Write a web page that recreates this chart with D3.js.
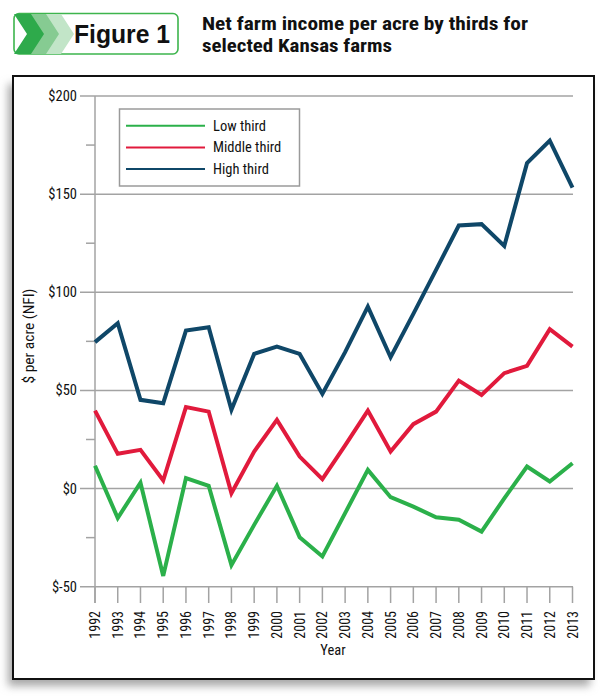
<!DOCTYPE html>
<html><head><meta charset="utf-8">
<script src="https://cdn.jsdelivr.net/npm/d3@7"></script>
<style>
body{margin:0;background:#fff;}
svg text{font-family:"Liberation Sans Narrow","Arial Narrow","Roboto Condensed","Liberation Sans",Arial,sans-serif;}
</style></head>
<body><svg id="c" width="610" height="696"></svg>
<script>
const years = d3.range(1992, 2014);
const yTicks = [-50, 0, 50, 100, 150, 200];
const yTickLabels = ["$-50", "$0", "$50", "$100", "$150", "$200"];
const seriesNames = ["Low third", "Middle third", "High third"];
const seriesColors = ["#2bb04a", "#e11a3c", "#0f4768"];
const lowThird    = [11.6, -15, 3, -44.5, 5.3, 1.4, -39, -18.5, 1.4, -24.8, -34.6, -12.5, 9.5, -4.4, -9.2, -14.6, -15.9, -21.9, -5, 11.2, 3.6, 12.9];
const middleThird = [39.7, 17.7, 19.7, 4.1, 41.5, 39.2, -2.4, 18.9, 35, 16.3, 4.8, 22, 39.7, 18.9, 32.8, 39.2, 55, 47.7, 58.8, 62.5, 81.2, 72.3];
const highThird   = [74.6, 84.2, 45.2, 43.5, 80.5, 82.2, 40.1, 68.6, 72.3, 68.6, 48.2, 69.5, 92.7, 66.9, 89, 111.4, 134, 134.7, 123.6, 165.8, 177.3, 153.3];
const seriesValues = [lowThird, middleThird, highThird];

const svg = d3.select("#c");
const defs = svg.append("defs");
const f = defs.append("filter").attr("id","sh").attr("x","-10%").attr("y","-10%").attr("width","120%").attr("height","120%");
f.append("feGaussianBlur").attr("stdDeviation", 4);

// shadow + frame
svg.append("rect").attr("x", 8).attr("y", 84).attr("width", 582).attr("height", 602)
  .attr("fill", "#a8a8a8").attr("filter", "url(#sh)");
svg.append("rect").attr("x", 13).attr("y", 76).attr("width", 581).attr("height", 603)
  .attr("fill", "#fff").attr("stroke", "#111").attr("stroke-width", 2);

// badge
const badge = svg.append("g");
badge.append("rect").attr("x", 14).attr("y", 13.5).attr("width", 164).attr("height", 40.5).attr("rx", 5)
  .attr("fill", "#fff").attr("stroke", "#3db54d").attr("stroke-width", 1.6);
const chev = (x0, col) => badge.append("path")
  .attr("d", `M${x0},14 L${x0+17},14 L${x0+30},34 L${x0+17},54 L${x0},54 L${x0+13},34 Z`).attr("fill", col);
chev(44, "#c2e5c8");
chev(29, "#86cb92");
chev(14, "#2eaa4b");
badge.append("text").attr("x", 74).attr("y", 43).attr("font-size", 25).attr("font-weight", "bold")
  .attr("textLength", 96).attr("lengthAdjust", "spacingAndGlyphs")
  .style("font-family", "'Liberation Sans',Arial,sans-serif").attr("fill", "#111").text("Figure 1");

const title = svg.append("text").attr("font-size", 18.5).attr("font-weight", "bold").attr("fill", "#111");
title.append("tspan").attr("x", 202).attr("y", 30).attr("textLength", 326).attr("lengthAdjust", "spacingAndGlyphs")
  .text("Net farm income per acre by thirds for");
title.append("tspan").attr("x", 202).attr("y", 51.7).attr("textLength", 190).attr("lengthAdjust", "spacingAndGlyphs")
  .text("selected Kansas farms");

// scales
const x = d3.scaleLinear().domain([1992, 2013]).range([95, 572.5]);
const y = d3.scaleLinear().domain([-50, 200]).range([586.7, 96]);

const grid = "#a3a3a3";
svg.append("g").selectAll("line").data(yTicks).join("line")
  .attr("x1", 80).attr("x2", 573).attr("y1", d => y(d)).attr("y2", d => y(d))
  .attr("stroke", grid).attr("stroke-width", 1.5);
svg.append("g").selectAll("line").data(d3.range(-25, 200, 50)).join("line")
  .attr("x1", 86).attr("x2", 95).attr("y1", d => y(d)).attr("y2", d => y(d))
  .attr("stroke", grid).attr("stroke-width", 1.5);
svg.append("line").attr("x1", x(1992)).attr("x2", x(1992)).attr("y1", y(200)).attr("y2", 603)
  .attr("stroke", grid).attr("stroke-width", 1.5);
svg.append("g").selectAll("text").data(yTicks).join("text")
  .attr("x", 77).attr("y", d => y(d) + 5).attr("text-anchor", "end").attr("font-size", 14.5)
  .attr("fill", "#111").text((d, i) => yTickLabels[i]);
svg.append("g").selectAll("line").data(years).join("line")
  .attr("x1", d => x(d)).attr("x2", d => x(d)).attr("y1", y(-50)).attr("y2", 603)
  .attr("stroke", grid).attr("stroke-width", 1.5);
svg.append("g").selectAll("text").data(years).join("text")
  .attr("transform", d => `translate(${x(d) + 5},611) rotate(-90)`)
  .attr("text-anchor", "end").attr("font-size", 14).attr("fill", "#111").text(d => d);
svg.append("text").attr("x", 333).attr("y", 655).attr("text-anchor", "middle").attr("font-size", 14.5)
  .attr("fill", "#111").text("Year");
svg.append("text").attr("transform", "translate(34,336) rotate(-90)").attr("text-anchor", "middle")
  .attr("font-size", 15.5).attr("fill", "#111").text("$ per acre (NFI)");

const line = d3.line().x((d, i) => x(years[i])).y(d => y(d)).curve(d3.curveLinear);
seriesValues.forEach((vals, k) => {
  svg.append("path").datum(vals).attr("d", line).attr("fill", "none")
    .attr("stroke", seriesColors[k]).attr("stroke-width", 4).attr("stroke-linejoin", "miter");
});

const lg = svg.append("g");
lg.append("rect").attr("x", 119.5).attr("y", 109).attr("width", 180).attr("height", 77)
  .attr("fill", "#fff").attr("stroke", "#9a9a9a").attr("stroke-width", 1.5);
seriesNames.forEach((n, k) => {
  const yy = 125.7 + k * 21.7;
  lg.append("line").attr("x1", 126).attr("x2", 205).attr("y1", yy).attr("y2", yy)
    .attr("stroke", seriesColors[k]).attr("stroke-width", 2);
  lg.append("text").attr("x", 213).attr("y", yy + 5).attr("font-size", 14.5).attr("fill", "#111").text(n);
});
</script></body></html>
